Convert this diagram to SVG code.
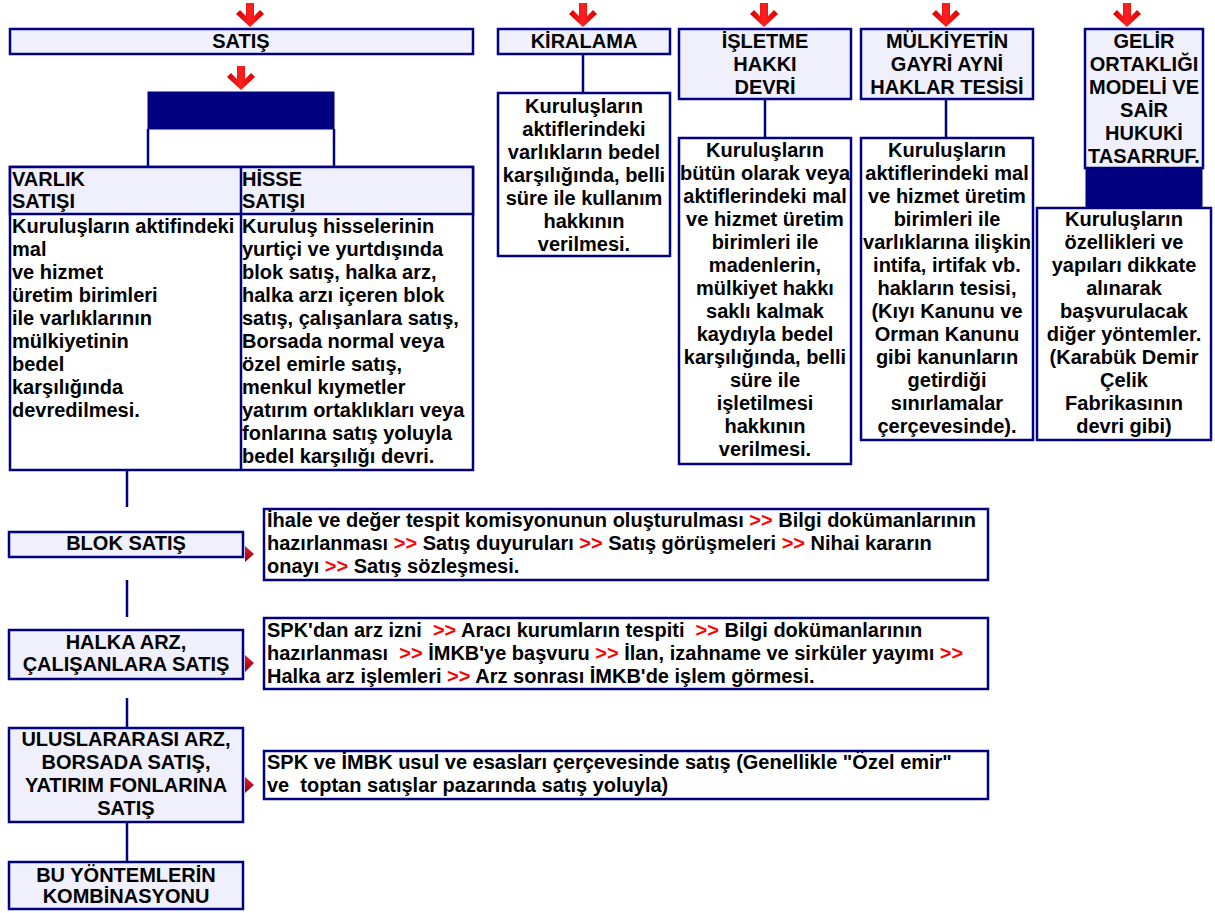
<svg xmlns="http://www.w3.org/2000/svg" width="1215" height="913" viewBox="0 0 1215 913">
<style>
.box{fill:#f0f0fc;stroke:#000080;stroke-width:2.5}
.wbox{fill:#ffffff;stroke:#000080;stroke-width:2.5}
.navy{fill:#000080;stroke:#000080;stroke-width:1}
.ln{stroke:#000080;stroke-width:2.5;fill:none}
.t{font-family:"Liberation Sans",Arial,Helvetica,sans-serif;font-weight:bold;font-size:20px;fill:#000000;white-space:pre}
.c{text-anchor:middle}
.r{fill:#ff0000}
.ptr{fill:url(#pg)}
</style>
<defs>
<linearGradient id="ag" x1="0" y1="0" x2="1" y2="0">
<stop offset="0" stop-color="#d80000"/>
<stop offset="0.5" stop-color="#ff2020"/>
<stop offset="1" stop-color="#d80000"/>
</linearGradient>
<linearGradient id="pg" x1="0" y1="0" x2="0" y2="1">
<stop offset="0" stop-color="#e02030"/>
<stop offset="1" stop-color="#900010"/>
</linearGradient>
<polygon id="arrow" points="-4,0 4,0 4,13 10,7 14,11 0,24 -14,11 -10,7 -4,13" fill="url(#ag)"/>
</defs>

<g id="connectors">
<use href="#arrow" x="250" y="3"/>
<use href="#arrow" x="241" y="66"/>
<use href="#arrow" x="583" y="3"/>
<use href="#arrow" x="764" y="3"/>
<use href="#arrow" x="946" y="3"/>
<use href="#arrow" x="1127" y="3"/>
<line class="ln" x1="148" y1="129" x2="148" y2="167"/>
<line class="ln" x1="334" y1="129" x2="334" y2="167"/>
<line class="ln" x1="583" y1="54" x2="583" y2="93"/>
<line class="ln" x1="765" y1="99" x2="765" y2="138"/>
<line class="ln" x1="946" y1="99" x2="946" y2="138"/>
<line class="ln" x1="127" y1="470" x2="127" y2="507"/>
<line class="ln" x1="127" y1="580" x2="127" y2="617"/>
<line class="ln" x1="127" y1="698" x2="127" y2="728"/>
<line class="ln" x1="127" y1="822" x2="127" y2="862"/>
<polygon class="ptr" points="245,546 254,554 245,562"/>
<polygon class="ptr" points="245,655 254,663 245,672"/>
<polygon class="ptr" points="245,777 254,785 245,793"/>
</g>

<g id="satis">
<rect class="box" x="10" y="29" width="463" height="25"/>
<text class="t c" x="241" y="48">SATIŞ</text>
</g>

<g id="bar">
<rect class="navy" x="148" y="92" width="186" height="37"/>
</g>

<g id="table">
<rect class="wbox" x="10" y="167" width="463" height="303"/>
<rect class="box" x="10" y="167" width="463" height="47"/>
<line class="ln" x1="241" y1="167" x2="241" y2="470"/>
<text class="t" x="12" y="186">VARLIK</text>
<text class="t" x="12" y="208">SATIŞI</text>
<text class="t" x="242" y="186">HİSSE</text>
<text class="t" x="242" y="208">SATIŞI</text>
<text class="t" x="12" y="233">Kuruluşların aktifindeki</text>
<text class="t" x="12" y="256">mal</text>
<text class="t" x="12" y="279">ve hizmet</text>
<text class="t" x="12" y="302">üretim birimleri</text>
<text class="t" x="12" y="325">ile varlıklarının</text>
<text class="t" x="12" y="348">mülkiyetinin</text>
<text class="t" x="12" y="371">bedel</text>
<text class="t" x="12" y="394">karşılığında</text>
<text class="t" x="12" y="417">devredilmesi.</text>
<text class="t" x="242" y="233">Kuruluş hisselerinin</text>
<text class="t" x="242" y="256">yurtiçi ve yurtdışında</text>
<text class="t" x="242" y="279">blok satış, halka arz,</text>
<text class="t" x="242" y="302">halka arzı içeren blok</text>
<text class="t" x="242" y="325">satış, çalışanlara satış,</text>
<text class="t" x="242" y="348">Borsada normal veya</text>
<text class="t" x="242" y="371">özel emirle satış,</text>
<text class="t" x="242" y="394">menkul kıymetler</text>
<text class="t" x="242" y="417">yatırım ortaklıkları veya</text>
<text class="t" x="242" y="440">fonlarına satış yoluyla</text>
<text class="t" x="242" y="463">bedel karşılığı devri.</text>
</g>

<g id="kiralama">
<rect class="box" x="498" y="29" width="172" height="25"/>
<text class="t c" x="584" y="48">KİRALAMA</text>
</g>
<g id="kiralama-desc">
<rect class="wbox" x="498" y="93" width="172" height="163"/>
<text class="t c" x="584" y="113">Kuruluşların</text>
<text class="t c" x="584" y="136">aktiflerindeki</text>
<text class="t c" x="584" y="159">varlıkların bedel</text>
<text class="t c" x="584" y="182">karşılığında, belli</text>
<text class="t c" x="584" y="205">süre ile kullanım</text>
<text class="t c" x="584" y="228">hakkının</text>
<text class="t c" x="584" y="251">verilmesi.</text>
</g>

<g id="isletme">
<rect class="box" x="679" y="29" width="172" height="70"/>
<text class="t c" x="765" y="48">İŞLETME</text>
<text class="t c" x="765" y="71">HAKKI</text>
<text class="t c" x="765" y="94">DEVRİ</text>
</g>
<g id="isletme-desc">
<rect class="wbox" x="679" y="138" width="172" height="326"/>
<text class="t c" x="765" y="157">Kuruluşların</text>
<text class="t c" x="765" y="180">bütün olarak veya</text>
<text class="t c" x="765" y="203">aktiflerindeki mal</text>
<text class="t c" x="765" y="226">ve hizmet üretim</text>
<text class="t c" x="765" y="249">birimleri ile</text>
<text class="t c" x="765" y="272">madenlerin,</text>
<text class="t c" x="765" y="295">mülkiyet hakkı</text>
<text class="t c" x="765" y="318">saklı kalmak</text>
<text class="t c" x="765" y="341">kaydıyla bedel</text>
<text class="t c" x="765" y="364">karşılığında, belli</text>
<text class="t c" x="765" y="387">süre ile</text>
<text class="t c" x="765" y="410">işletilmesi</text>
<text class="t c" x="765" y="433">hakkının</text>
<text class="t c" x="765" y="456">verilmesi.</text>
</g>

<g id="mulkiyet">
<rect class="box" x="861" y="29" width="172" height="70"/>
<text class="t c" x="947" y="48">MÜLKİYETİN</text>
<text class="t c" x="947" y="71">GAYRİ AYNİ</text>
<text class="t c" x="947" y="94">HAKLAR TESİSİ</text>
</g>
<g id="mulkiyet-desc">
<rect class="wbox" x="861" y="138" width="172" height="302"/>
<text class="t c" x="947" y="157">Kuruluşların</text>
<text class="t c" x="947" y="180">aktiflerindeki mal</text>
<text class="t c" x="947" y="203">ve hizmet üretim</text>
<text class="t c" x="947" y="226">birimleri ile</text>
<text class="t c" x="947" y="249">varlıklarına ilişkin</text>
<text class="t c" x="947" y="272">intifa, irtifak vb.</text>
<text class="t c" x="947" y="295">hakların tesisi,</text>
<text class="t c" x="947" y="318">(Kıyı Kanunu ve</text>
<text class="t c" x="947" y="341">Orman Kanunu</text>
<text class="t c" x="947" y="364">gibi kanunların</text>
<text class="t c" x="947" y="387">getirdiği</text>
<text class="t c" x="947" y="410">sınırlamalar</text>
<text class="t c" x="947" y="433">çerçevesinde).</text>
</g>

<g id="gelir">
<rect class="box" x="1085" y="29" width="118" height="139"/>
<text class="t c" x="1144" y="48">GELİR</text>
<text class="t c" x="1144" y="71">ORTAKLIĞI</text>
<text class="t c" x="1144" y="94">MODELİ VE</text>
<text class="t c" x="1144" y="117">SAİR</text>
<text class="t c" x="1144" y="140">HUKUKİ</text>
<text class="t c" x="1144" y="163">TASARRUF.</text>
</g>
<g id="gelir-bar">
<rect class="navy" x="1086" y="169" width="116" height="39"/>
</g>
<g id="gelir-desc">
<rect class="wbox" x="1037" y="208" width="174" height="232"/>
<text class="t c" x="1124" y="226">Kuruluşların</text>
<text class="t c" x="1124" y="249">özellikleri ve</text>
<text class="t c" x="1124" y="272">yapıları dikkate</text>
<text class="t c" x="1124" y="295">alınarak</text>
<text class="t c" x="1124" y="318">başvurulacak</text>
<text class="t c" x="1124" y="341">diğer yöntemler.</text>
<text class="t c" x="1124" y="364">(Karabük Demir</text>
<text class="t c" x="1124" y="387">Çelik</text>
<text class="t c" x="1124" y="410">Fabrikasının</text>
<text class="t c" x="1124" y="433">devri gibi)</text>
</g>

<g id="blok">
<rect class="box" x="9" y="532" width="234" height="25"/>
<text class="t c" x="126" y="550">BLOK SATIŞ</text>
</g>
<g id="blok-desc">
<rect class="wbox" x="264" y="509" width="724" height="71"/>
<text class="t" x="267" y="527">İhale ve değer tespit komisyonunun oluşturulması <tspan class="r">&gt;&gt;</tspan> Bilgi dokümanlarının</text>
<text class="t" x="267" y="550">hazırlanması <tspan class="r">&gt;&gt;</tspan> Satış duyuruları <tspan class="r">&gt;&gt;</tspan> Satış görüşmeleri <tspan class="r">&gt;&gt;</tspan> Nihai kararın</text>
<text class="t" x="267" y="573">onayı <tspan class="r">&gt;&gt;</tspan> Satış sözleşmesi.</text>
</g>

<g id="halka">
<rect class="box" x="9" y="630" width="234" height="49"/>
<text class="t c" x="126" y="649">HALKA ARZ,</text>
<text class="t c" x="126" y="671">ÇALIŞANLARA SATIŞ</text>
</g>
<g id="halka-desc">
<rect class="wbox" x="264" y="618" width="724" height="71"/>
<text class="t" x="267" y="637">SPK'dan arz izni  <tspan class="r">&gt;&gt;</tspan> Aracı kurumların tespiti  <tspan class="r">&gt;&gt;</tspan> Bilgi dokümanlarının</text>
<text class="t" x="267" y="660">hazırlanması  <tspan class="r">&gt;&gt;</tspan> İMKB'ye başvuru <tspan class="r">&gt;&gt;</tspan> İlan, izahname ve sirküler yayımı <tspan class="r">&gt;&gt;</tspan></text>
<text class="t" x="267" y="683">Halka arz işlemleri <tspan class="r">&gt;&gt;</tspan> Arz sonrası İMKB'de işlem görmesi.</text>
</g>

<g id="uluslararasi">
<rect class="box" x="9" y="728" width="234" height="94"/>
<text class="t c" x="126" y="746">ULUSLARARASI ARZ,</text>
<text class="t c" x="126" y="769">BORSADA SATIŞ,</text>
<text class="t c" x="126" y="792">YATIRIM FONLARINA</text>
<text class="t c" x="126" y="815">SATIŞ</text>
</g>
<g id="spk-desc">
<rect class="wbox" x="264" y="751" width="724" height="48"/>
<text class="t" x="267" y="769">SPK ve İMBK usul ve esasları çerçevesinde satış (Genellikle "Özel emir"</text>
<text class="t" x="267" y="792">ve  toptan satışlar pazarında satış yoluyla)</text>
</g>

<g id="kombinasyon">
<rect class="box" x="9" y="862" width="234" height="47"/>
<text class="t c" x="126" y="882">BU YÖNTEMLERİN</text>
<text class="t c" x="126" y="903">KOMBİNASYONU</text>
</g>
</svg>
